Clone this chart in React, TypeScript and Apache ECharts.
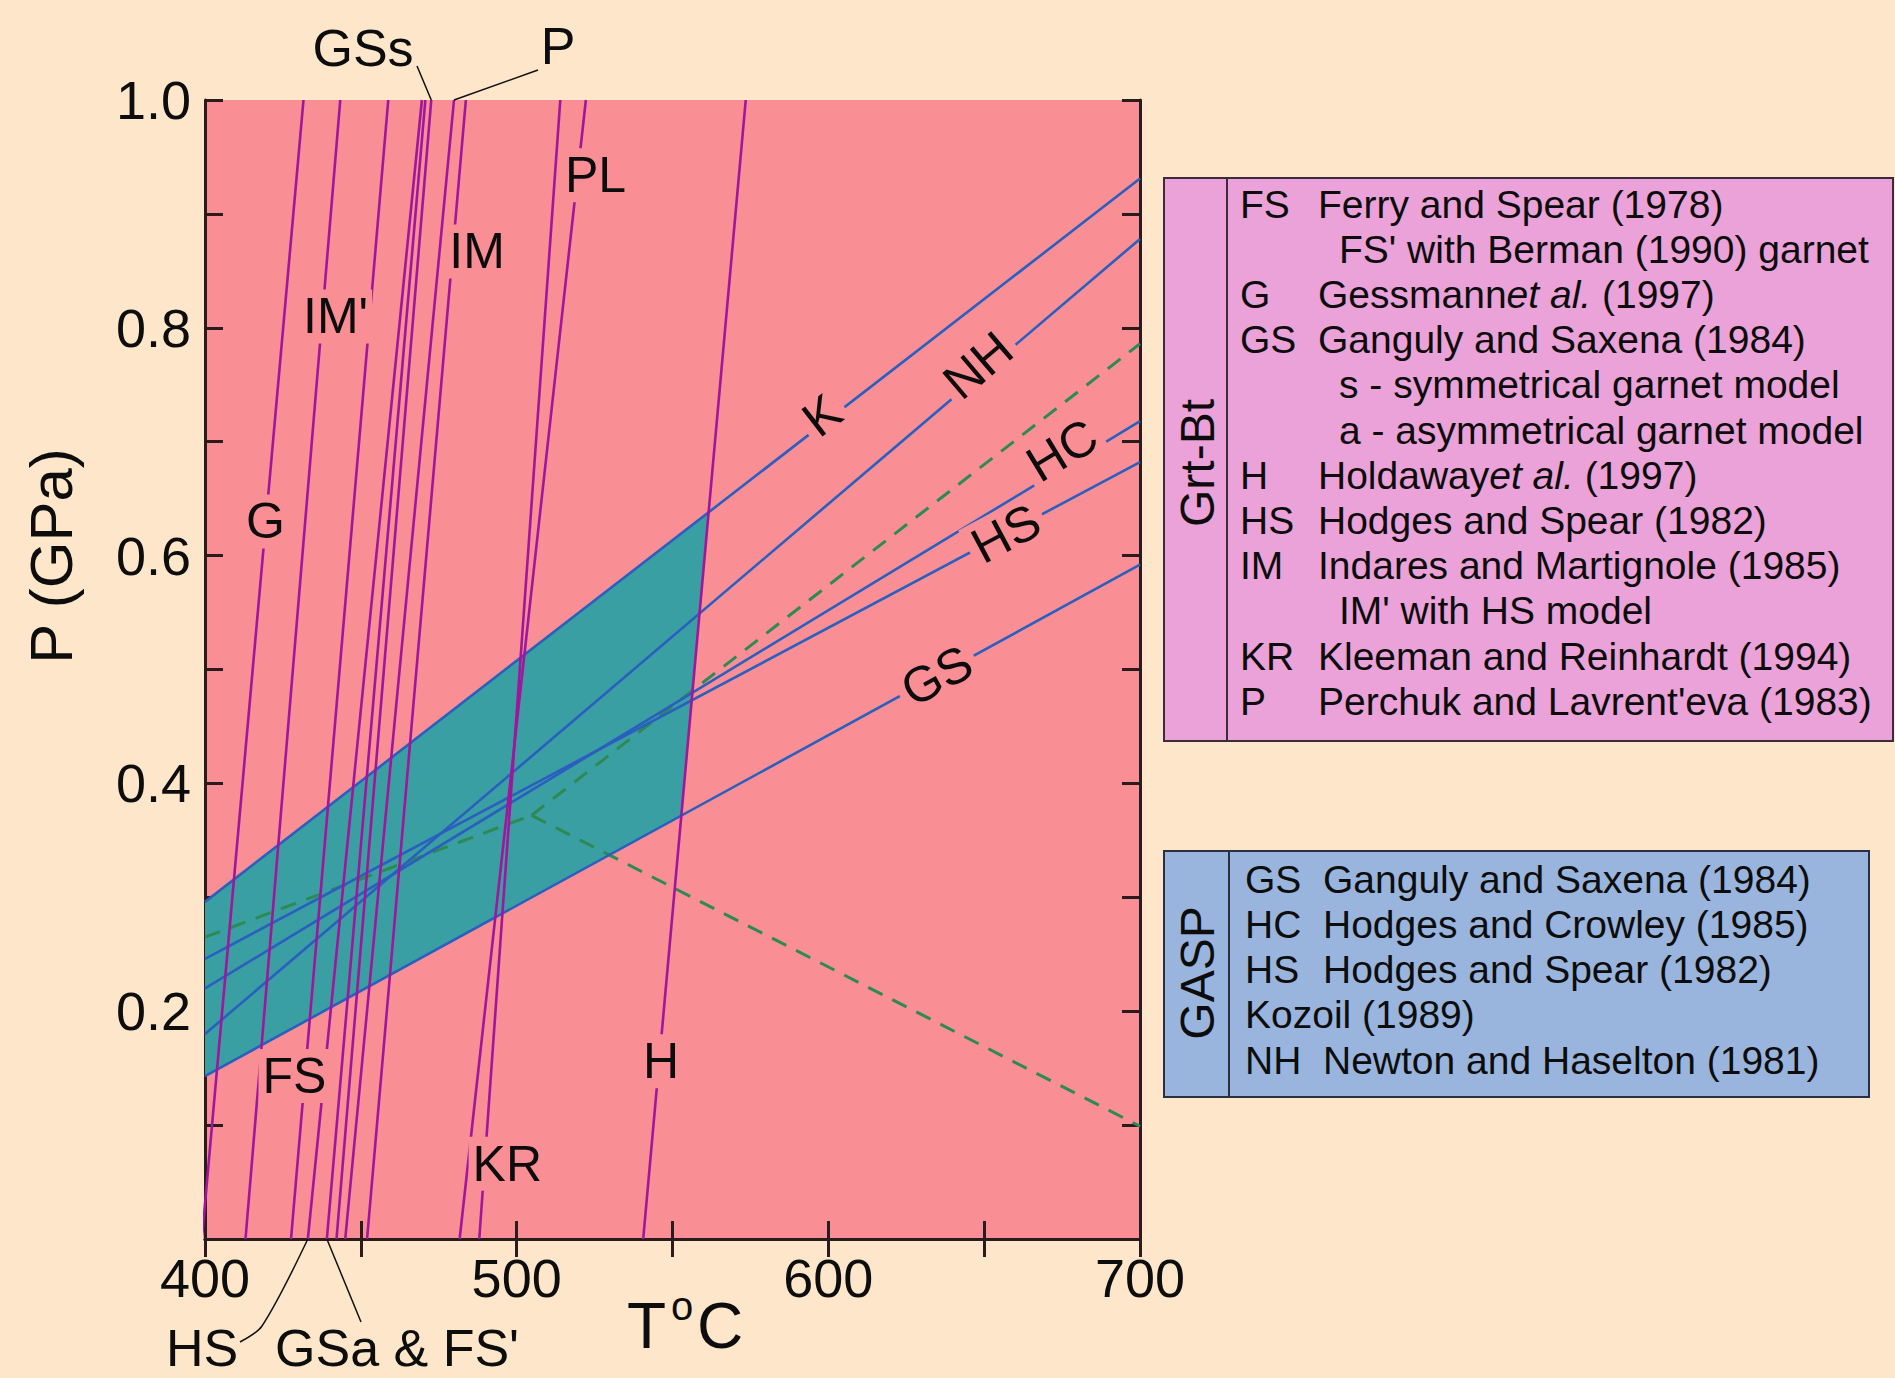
import React, { useEffect, useRef } from "react";
import * as echarts from "echarts";

const FONT = "'Liberation Sans', Arial, Helvetica, sans-serif";

// ---------------- data ----------------
// axis ticks
const xLabelValues = [400, 500, 600, 700];
const yLabelValues = [0.2, 0.4, 0.6, 0.8, 1.0];

// Grt-Bt thermometers (purple): temperature (°C) at P = 0 GPa and at P = 1 GPa
const grtBtNames = ["G", "IM'", "FS", "HS", "GSa & FS'", "GSs", "P", "IM", "KR", "PL", "H"];
const grtBtTatP0 = [399.0, 413.0, 427.6, 433.0, 439.1, 442.2, 445.0, 452.0, 488.0, 481.7, 540.6];
const grtBtTatP1 = [431.6, 443.4, 458.8, 469.6, 470.7, 472.6, 479.9, 483.7, 514.0, 522.2, 573.5];

// GASP barometers (blue): pressure (GPa) at T = 400 °C and T = 700 °C
const gaspNames = ["K", "NH", "HC", "HS", "GS"];
const gaspPat400 = [0.296, 0.18, 0.22, 0.246, 0.143];
const gaspPat700 = [0.931, 0.878, 0.718, 0.682, 0.592];

// Al2SiO5 reactions (green dashed)
const alsTriple = [504.8, 0.372];
const alsKyAndEnd = [400, 0.265];
const alsKySilEnd = [700, 0.786];
const alsAndSilEnd = [700, 0.099];

// in-plot labels of the thermometers (T, P)
const grtBtLabelNames = ["G", "IM'", "IM", "PL", "FS", "KR", "H"];
const grtBtLabelT = [419.4, 441.9, 487.3, 525.3, 428.7, 497.0, 546.3];
const grtBtLabelP = [0.63, 0.81, 0.867, 0.934, 0.143, 0.066, 0.156];

// in-plot labels of the barometers: T along each line, and P offset above the line
const gaspLabelT = [598.0, 648.0, 675.0, 657.0, 634.8];
const gaspLabelLift = [0.008, 0.01, 0.016, 0.0, 0.0];

// legends
const grtBtLegendAbbr = ["FS", "", "G", "GS", "", "", "H", "HS", "IM", "", "KR", "P"];
const grtBtLegendText = [
  "Ferry and Spear (1978)",
  "FS' with Berman (1990) garnet",
  "Gessmann{i|et al.} (1997)",
  "Ganguly and Saxena (1984)",
  "s - symmetrical garnet model",
  "a - asymmetrical garnet model",
  "Holdaway{i|et al.} (1997)",
  "Hodges and Spear (1982)",
  "Indares and Martignole (1985)",
  "IM' with HS model",
  "Kleeman and Reinhardt (1994)",
  "Perchuk and Lavrent'eva (1983)",
];
const grtBtLegendIndent = [0, 1, 0, 0, 1, 1, 0, 0, 0, 1, 0, 0];

const gaspLegendAbbr = ["GS", "HC", "HS", "", "NH"];
const gaspLegendText = [
  "Ganguly and Saxena (1984)",
  "Hodges and Crowley (1985)",
  "Hodges and Spear (1982)",
  "Kozoil (1989)",
  "Newton and Haselton (1981)",
];

// ---------------- style ----------------
const BG = "#fde6c9";
const PINK = "#f98f94";
const TEAL = "#3a9fa3";
const PURPLE = "#a0169c";
const BLUE = "#2a5fbf";
const GREEN = "#2d8a55";
const INK = "#2a1c1c";
const TEXT = "#0d0d0d";
const LEG1 = "#eaa2d8";
const LEG2 = "#99b5de";

const GRID = { left: 205, top: 100, width: 935, height: 1139 };
const T_MIN = 400, T_MAX = 700, P_MIN = 0, P_MAX = 1;

function pixelAngle(dT: number, dP: number) {
  const px = (dT * GRID.width) / (T_MAX - T_MIN);
  const py = (dP * GRID.height) / (P_MAX - P_MIN);
  return Math.atan2(py, px);
}

function gaspP(i: number, T: number) {
  return gaspPat400[i] + ((gaspPat700[i] - gaspPat400[i]) * (T - 400)) / 300;
}

// intersection of a GASP line (index g) and a Grt-Bt line (index t)
function intersect(g: number, t: number) {
  const a = gaspPat400[g];
  const b = (gaspPat700[g] - gaspPat400[g]) / 300;
  const t0 = grtBtTatP0[t];
  const d = grtBtTatP1[t] - grtBtTatP0[t];
  const P = (a + b * (t0 - 400)) / (1 - b * d);
  return [t0 + d * P, P];
}

function buildOption() {
  const hIdx = grtBtNames.indexOf("H");
  const kIdx = gaspNames.indexOf("K");
  const gsIdx = gaspNames.indexOf("GS");
  const tealPoly = [
    [400, gaspPat400[kIdx]],
    intersect(kIdx, hIdx),
    intersect(gsIdx, hIdx),
    [400, gaspPat400[gsIdx]],
  ];

  const series: any[] = [];

  series.push({
    type: "custom",
    name: "overlap",
    data: tealPoly,
    clip: true,
    z: 1,
    silent: true,
    renderItem: (params: any, api: any) => {
      if (params.dataIndex !== 0) return null;
      const pts = tealPoly.map((p) => api.coord(p));
      return {
        type: "polygon",
        shape: { points: pts },
        style: { fill: TEAL, stroke: "none" },
      };
    },
  });

  const dashed = [
    [alsKyAndEnd, alsTriple],
    [alsTriple, alsKySilEnd],
    [alsTriple, alsAndSilEnd],
  ];
  dashed.forEach((seg, i) => {
    series.push({
      type: "line",
      name: "als" + i,
      data: seg,
      symbol: "none",
      silent: true,
      clip: true,
      z: 2,
      lineStyle: { color: GREEN, width: 3, type: [16, 11] },
    });
  });

  gaspNames.forEach((n, i) => {
    series.push({
      type: "line",
      name: "GASP " + n,
      data: [
        [400, gaspPat400[i]],
        [700, gaspPat700[i]],
      ],
      symbol: "none",
      silent: true,
      clip: true,
      z: 3,
      lineStyle: { color: BLUE, width: 2.6 },
    });
  });

  grtBtNames.forEach((n, i) => {
    series.push({
      type: "line",
      name: "Grt-Bt " + n,
      data: [
        [grtBtTatP0[i], 0],
        [grtBtTatP1[i], 1],
      ],
      symbol: "none",
      silent: true,
      clip: true,
      z: 4,
      lineStyle: { color: PURPLE, width: 2.6 },
    });
  });

  const axisCommon = {
    type: "value",
    axisLine: { show: true, lineStyle: { color: INK, width: 3 } },
    axisTick: { show: true, inside: true, length: 18, lineStyle: { color: INK, width: 3 } },
    splitLine: { show: false },
  };

  return {
    animation: false,
    backgroundColor: BG,
    grid: { ...GRID, show: true, backgroundColor: PINK, borderWidth: 0 },
    xAxis: [
      {
        ...axisCommon,
        min: T_MIN,
        max: T_MAX,
        interval: 50,
        position: "bottom",
        axisLabel: {
          show: true,
          fontFamily: FONT,
          fontSize: 54,
          color: TEXT,
          margin: 12,
          showMinLabel: true,
          showMaxLabel: true,
          formatter: (v: number) => (xLabelValues.indexOf(v) >= 0 ? String(v) : ""),
        },
      },
      {
        ...axisCommon,
        min: T_MIN,
        max: T_MAX,
        interval: 50,
        position: "top",
        axisLabel: { show: false },
      },
    ],
    yAxis: [
      {
        ...axisCommon,
        min: P_MIN,
        max: P_MAX,
        interval: 0.1,
        position: "left",
        axisLabel: {
          show: true,
          fontFamily: FONT,
          fontSize: 54,
          color: TEXT,
          margin: 14,
          showMaxLabel: true,
          formatter: (v: number) => {
            const hit = yLabelValues.find((y) => Math.abs(y - v) < 1e-6);
            return hit !== undefined ? hit.toFixed(1) : "";
          },
        },
      },
      {
        ...axisCommon,
        min: P_MIN,
        max: P_MAX,
        interval: 0.1,
        position: "right",
        axisLabel: { show: false },
      },
    ],
    series,
  };
}

function buildGraphic(chart: any) {
  const g: any[] = [];
  const txt = (x: number, y: number, text: string, size: number, extra: any = {}) => ({
    type: "text",
    x,
    y,
    silent: true,
    z: 100,
    style: {
      text,
      fontFamily: FONT,
      fontSize: size,
      fill: TEXT,
      align: "left",
      verticalAlign: "middle",
      rich: { i: { fontStyle: "italic", fontFamily: FONT, fontSize: size, fill: TEXT } },
      ...extra,
    },
  });
  const conv = (T: number, P: number) => chart.convertToPixel({ gridIndex: 0 }, [T, P]);

  // in-plot labels of thermometers (upright, line gap via background)
  grtBtLabelNames.forEach((n, i) => {
    const p = conv(grtBtLabelT[i], grtBtLabelP[i]);
    g.push(txt(p[0], p[1], n, 50, { align: "center", backgroundColor: PINK, padding: [2, 4, 2, 4] }));
  });
  // in-plot labels of barometers (rotated along the line)
  gaspNames.forEach((n, i) => {
    const T = gaspLabelT[i];
    const p = conv(T, gaspP(i, T) + gaspLabelLift[i]);
    g.push({
      ...txt(p[0], p[1], n, 50, { align: "center", backgroundColor: PINK, padding: [0, 6, 0, 6] }),
      rotation: pixelAngle(300, gaspPat700[i] - gaspPat400[i]),
    });
  });

  // axis titles
  g.push({ ...txt(51, 556, "P (GPa)", 60, { align: "center" }), rotation: Math.PI / 2 });
  g.push(txt(627, 1326, "T", 64));
  g.push(txt(671, 1306, "o", 40));
  g.push(txt(697, 1326, "C", 64));

  // pointer labels outside the frame
  const iGSs = grtBtNames.indexOf("GSs");
  const iP = grtBtNames.indexOf("P");
  const iHS = grtBtNames.indexOf("HS");
  const iGSa = grtBtNames.indexOf("GSa & FS'");
  const topGSs = conv(grtBtTatP1[iGSs], 1);
  const topP = conv(grtBtTatP1[iP], 1);
  const botHS = conv(grtBtTatP0[iHS], 0);
  const botGSa = conv(grtBtTatP0[iGSa], 0);

  g.push(txt(363, 48, "GSs", 52, { align: "center" }));
  g.push(txt(558, 46, "P", 52, { align: "center" }));
  g.push(txt(202, 1348, "HS", 52, { align: "center" }));
  g.push(txt(397, 1348, "GSa & FS'", 52, { align: "center" }));
  const lineStyle = { stroke: "#111", lineWidth: 1.5, fill: null };
  g.push({ type: "line", shape: { x1: 417, y1: 66, x2: topGSs[0], y2: topGSs[1] }, style: lineStyle, z: 100 });
  g.push({ type: "line", shape: { x1: 538, y1: 70, x2: topP[0], y2: topP[1] }, style: lineStyle, z: 100 });
  g.push({
    type: "polyline",
    shape: { points: [[240, 1342], [262, 1326], [botHS[0], botHS[1]]], smooth: 0.3 },
    style: lineStyle,
    z: 100,
  });
  g.push({ type: "line", shape: { x1: 361, y1: 1322, x2: botGSa[0], y2: botGSa[1] }, style: lineStyle, z: 100 });

  // Grt-Bt legend box
  const b1 = { x: 1164, y: 178, w: 729, h: 563, div: 1227 };
  g.push({
    type: "rect",
    shape: { x: b1.x, y: b1.y, width: b1.w, height: b1.h },
    style: { fill: LEG1, stroke: "#3b2b3b", lineWidth: 2 },
    z: 90,
  });
  g.push({ type: "line", shape: { x1: b1.div, y1: b1.y, x2: b1.div, y2: b1.y + b1.h }, style: { stroke: "#3b2b3b", lineWidth: 2 }, z: 91 });
  g.push({ ...txt(1197, 463, "Grt-Bt", 48, { align: "center" }), rotation: Math.PI / 2 });
  grtBtLegendText.forEach((t, i) => {
    const y = 204 + i * 45.2;
    if (grtBtLegendAbbr[i]) g.push(txt(1240, y, grtBtLegendAbbr[i], 39));
    g.push(txt(grtBtLegendIndent[i] ? 1339 : 1318, y, t, 39));
  });

  // GASP legend box
  const b2 = { x: 1164, y: 851, w: 705, h: 246, div: 1229 };
  g.push({
    type: "rect",
    shape: { x: b2.x, y: b2.y, width: b2.w, height: b2.h },
    style: { fill: LEG2, stroke: "#2b3040", lineWidth: 2 },
    z: 90,
  });
  g.push({ type: "line", shape: { x1: b2.div, y1: b2.y, x2: b2.div, y2: b2.y + b2.h }, style: { stroke: "#2b3040", lineWidth: 2 }, z: 91 });
  g.push({ ...txt(1197, 973, "GASP", 48, { align: "center" }), rotation: Math.PI / 2 });
  gaspLegendText.forEach((t, i) => {
    const y = 879 + i * 45.3;
    if (gaspLegendAbbr[i]) {
      g.push(txt(1245, y, gaspLegendAbbr[i], 39));
      g.push(txt(1323, y, t, 39));
    } else {
      g.push(txt(1245, y, t, 39));
    }
  });
  return g;
}

export default function App() {
  const ref = useRef<HTMLDivElement>(null);
  useEffect(() => {
    document.body.style.margin = "0";
    document.body.style.background = BG;
    const chart = echarts.init(ref.current as HTMLDivElement, null, { renderer: "svg" });
    chart.setOption(buildOption() as any);
    chart.setOption({ graphic: buildGraphic(chart) } as any);
    return () => chart.dispose();
  }, []);
  return <div ref={ref} style={{ width: 1895, height: 1378 }} />;
}
